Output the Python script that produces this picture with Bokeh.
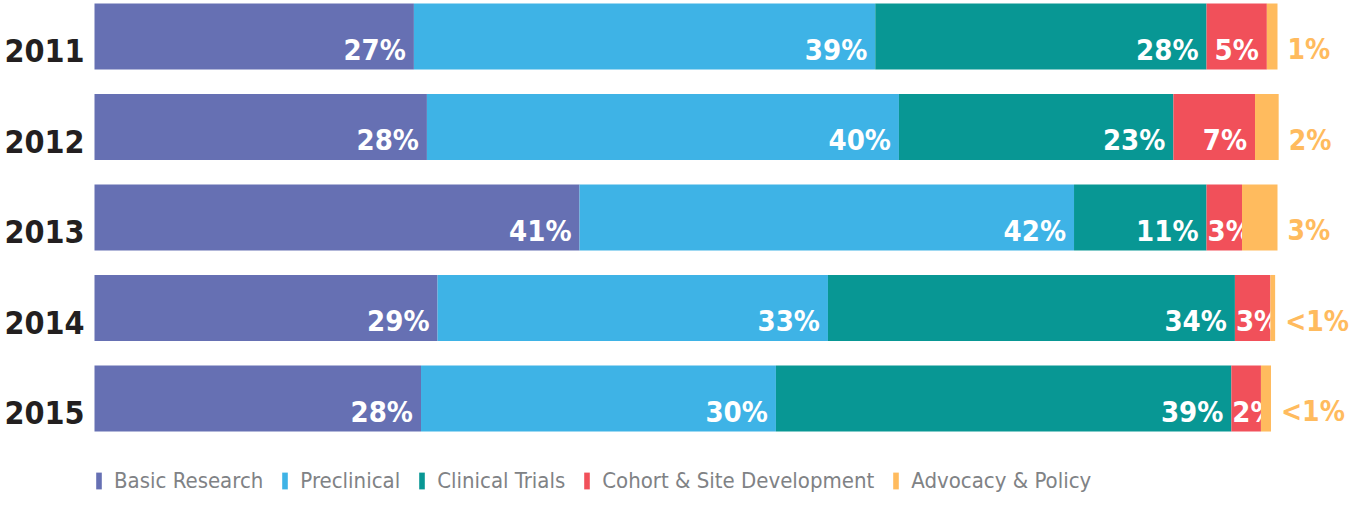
from bokeh.plotting import figure
from bokeh.models import Range1d, ColumnDataSource, Legend, LegendItem
from bokeh.core.properties import value
from bokeh.embed import file_html
from bokeh.resources import INLINE

years = ["2011", "2012", "2013", "2014", "2015"]
categories = ["Basic Research", "Preclinical", "Clinical Trials",
              "Cohort & Site Development", "Advocacy & Policy"]
basic = [27.0, 28.1, 41.0, 29.0, 27.6]
preclinical = [39.0, 39.9, 41.8, 33.0, 30.0]
clinical = [28.0, 23.2, 11.2, 34.4, 38.5]
cohort = [5.1, 6.9, 3.0, 3.0, 2.5]
advocacy = [0.9, 2.0, 3.0, 0.4, 0.85]
labels_basic = ["27%", "28%", "41%", "29%", "28%"]
labels_pre = ["39%", "40%", "42%", "33%", "30%"]
labels_clin = ["28%", "23%", "11%", "34%", "39%"]
labels_coh = ["5%", "7%", "3%", "3%", "2%"]
labels_adv = ["1%", "2%", "3%", "<1%", "<1%"]
colors = ["#6670B3", "#3EB3E6", "#089794", "#F1505A", "#FFBB5E"]

FONT = "DejaVu Sans Condensed"
W, H = 1352, 496
PX = 11.83          # pixels per percent
X0 = 94             # left edge of bars in px
ROW = 90.5          # px between rows
Y0 = 36             # center of first row in px

p = figure(width=W, height=H, output_backend="svg", toolbar_location=None,
           x_range=Range1d(-X0 / PX, (W - X0) / PX),
           y_range=Range1d((H - Y0) / ROW, -Y0 / ROW),
           min_border=0, outline_line_color=None)
p.axis.visible = False
p.grid.visible = False
p.background_fill_color = "white"
p.border_fill_color = "white"

series = [basic, preclinical, clinical, cohort, advocacy]
labels = [labels_basic, labels_pre, labels_clin, labels_coh]
idx = list(range(len(years)))

LBL = dict(text_baseline="alphabetic", y_offset=13, text_color="white",
           text_font=value(FONT), text_font_size="29px", text_font_style="bold")

left = [0.0] * len(years)
renderers = []
for k, vals in enumerate(series):
    right = [l + v for l, v in zip(left, vals)]
    src = ColumnDataSource(dict(y=idx, left=left, right=right))
    r = p.hbar(y="y", left="left", right="right", height=0.73, source=src,
               fill_color=colors[k], line_color=None)
    renderers.append(r)
    if k < 4:
        wide_x, wide_t, nar_x, nar_t, wy, ny = [], [], [], [], [], []
        for i in idx:
            if vals[i] >= 4:
                wide_x.append(right[i]); wide_t.append(labels[k][i]); wy.append(i)
            else:
                nar_x.append(left[i]); nar_t.append(labels[k][i]); ny.append(i)
        p.text(x=wide_x, y=wy, text=wide_t, text_align="right", x_offset=-8, **LBL)
        if nar_x:
            p.text(x=nar_x, y=ny, text=nar_t, text_align="left", x_offset=1, **LBL)
    left = right

# advocacy labels outside the bars
p.text(x=left, y=idx, text=labels_adv, text_align="left",
       text_baseline="alphabetic", x_offset=10, y_offset=13,
       text_color=colors[4], text_font=value(FONT),
       text_font_size="28px", text_font_style="bold")

# year labels
p.text(x=[0] * len(years), y=idx, text=years, text_align="left",
       text_baseline="alphabetic", x_offset=-90, y_offset=14,
       text_color="#231F20", text_font=value(FONT),
       text_font_size="32px", text_font_style="bold")

legend = Legend(items=[LegendItem(label=c, renderers=[r]) for c, r in zip(categories, renderers)],
                orientation="horizontal", location=(95, 3),
                glyph_width=7, glyph_height=21, label_standoff=12, spacing=18,
                padding=0, margin=0, border_line_color=None,
                background_fill_alpha=0,
                label_text_font=FONT, label_text_font_size="22px",
                label_text_color="#808285")
p.add_layout(legend, "center")

open("out.html", "w").write(file_html(p, INLINE))
